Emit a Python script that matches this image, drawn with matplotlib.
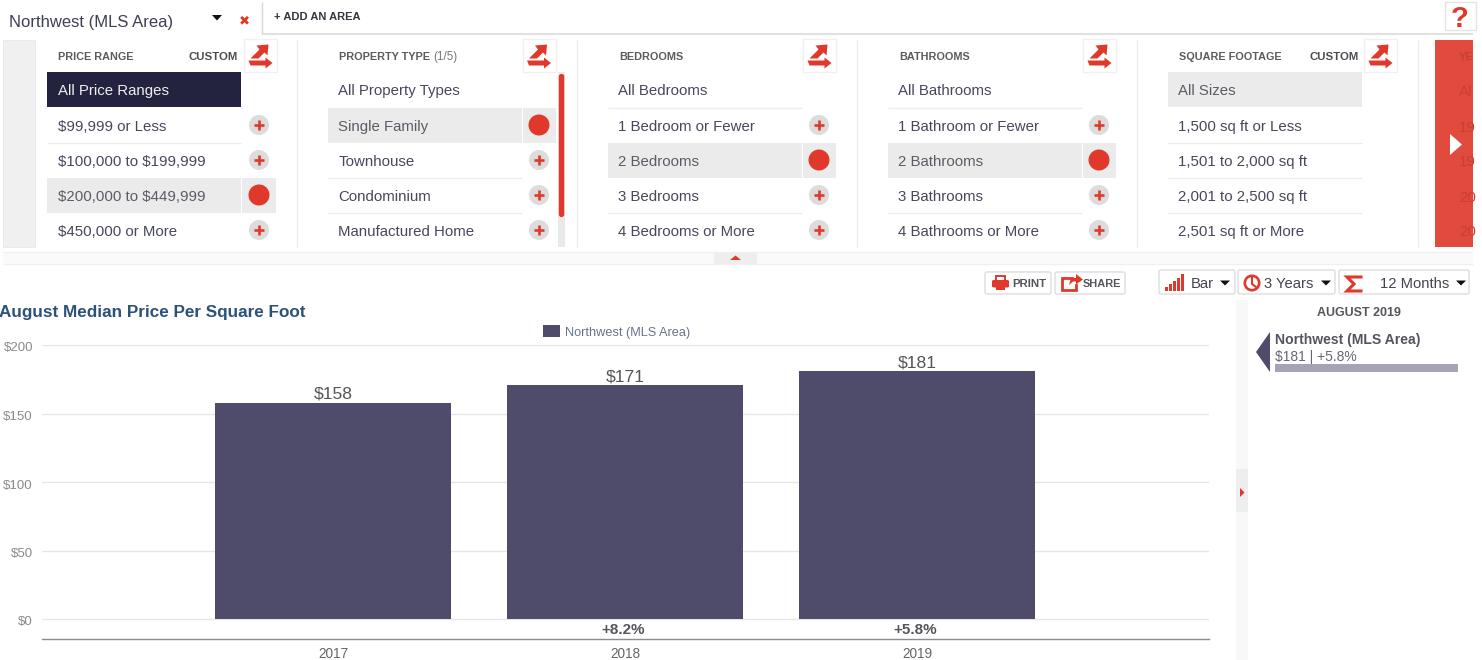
import matplotlib
matplotlib.use("Agg")
import matplotlib.pyplot as plt
from matplotlib.patches import Rectangle, Circle, Polygon, FancyBboxPatch
from matplotlib.transforms import ScaledTranslation

plt.rcParams['font.family'] = ['Liberation Sans', 'DejaVu Sans']

# ---- chart data ----
years = ['2017', '2018', '2019']
prices = [158, 171, 181]
changes = ['', '+8.2%', '+5.8%']
y_ticks = [0, 50, 100, 150, 200]
y_tick_labels = ['$0', '$50', '$100', '$150', '$200']
series_name = 'Northwest (MLS Area)'
chart_title = 'August Median Price Per Square Foot'

# ---- filter menus ----
price_items = ['All Price Ranges', '$99,999 or Less', '$100,000 to $199,999', '$200,000 to $449,999', '$450,000 or More']
type_items = ['All Property Types', 'Single Family', 'Townhouse', 'Condominium', 'Manufactured Home']
bed_items = ['All Bedrooms', '1 Bedroom or Fewer', '2 Bedrooms', '3 Bedrooms', '4 Bedrooms or More']
bath_items = ['All Bathrooms', '1 Bathroom or Fewer', '2 Bathrooms', '3 Bathrooms', '4 Bathrooms or More']
size_items = ['All Sizes', '1,500 sq ft or Less', '1,501 to 2,000 sq ft', '2,001 to 2,500 sq ft', '2,501 sq ft or More']

W, H = 1482, 660
RED = '#e0392b'
NAVY = '#4e4b6b'
fig = plt.figure(figsize=(W / 100, H / 100), dpi=100, facecolor='white')

# ---- pixel overlay for the interface ----
ui = fig.add_axes([0, 0, 1, 1], zorder=1)
ui.set_xlim(0, W)
ui.set_ylim(H, 0)
ui.axis('off')


def rect(x0, y0, x1, y1, fc, ec='none', lw=0, z=1):
    ui.add_patch(Rectangle((x0, y0), x1 - x0, y1 - y0, fc=fc, ec=ec, lw=lw, zorder=z))


def txt(x, y, s, size=10.85, color='#4a4a55', weight='normal', ha='left', z=5):
    return ui.text(x, y + 1, s, fontsize=size, color=color, fontweight=weight, ha=ha, va='center_baseline',
                   zorder=z, parse_math=False)


def hline(x0, x1, y, color='#e6e6e6', lw=1.0):
    ui.plot([x0, x1], [y, y], color=color, lw=lw, solid_capstyle='butt', zorder=2)


def vline(x, y0, y1, color='#ececec', lw=1.0):
    ui.plot([x, x], [y0, y1], color=color, lw=lw, solid_capstyle='butt', zorder=2)


def swap_icon(cx, cy):
    rect(cx - 16.5, cy - 16.5, cx + 16.5, cy + 16.5, 'white', ec='#f0f0f0', lw=1, z=2)
    ui.add_patch(Polygon([(cx - 10, cy + 3), (cx - 1, cy - 6), (cx - 4, cy - 10), (cx + 8, cy - 11),
                          (cx + 7, cy + 0), (cx + 4, cy - 3), (cx - 2, cy + 3)], fc=RED, zorder=3))
    ui.add_patch(Polygon([(cx - 12, cy + 5), (cx + 5, cy + 5), (cx + 5, cy + 2), (cx + 12, cy + 7.5),
                          (cx + 5, cy + 13), (cx + 5, cy + 10), (cx - 10, cy + 10)], fc=RED, zorder=3))


def plus(cx, cy):
    ui.add_patch(Circle((cx, cy), 10, fc='#dcdcdc', ec='none', zorder=3))
    ui.plot([cx - 5, cx + 5], [cy, cy], color=RED, lw=1.9, solid_capstyle='butt', zorder=4)
    ui.plot([cx, cx], [cy - 5, cy + 5], color=RED, lw=1.9, solid_capstyle='butt', zorder=4)


ROWS = [89, 125, 160, 195, 230]


def panel(x0, items, header, selected, custom=False, icon_cx=None, plus_cx=None, no_plus=False, dark=None):
    x1 = x0 + 194
    txt(x0 + 11, 54.8, header, size=7.8, color='#5b5b5f', weight='bold')
    if custom:
        txt(x1 - 3.5, 54.8, 'CUSTOM', size=8.2, color='#4c4c52', weight='bold', ha='right')
    swap_icon(icon_cx, 55.5)
    for i, (label, yc) in enumerate(zip(items, ROWS)):
        if i < 4 and i not in selected and i + 1 not in selected and i != dark:
            hline(x0, x1, (ROWS[i] + ROWS[i + 1]) / 2 + 0.5, color='#ececec', lw=1.0)
        color = '#47485c'
        if i == dark:
            rect(x0, yc - 17.5, x1, yc + 18, '#23233f', z=1.5)
            color = '#eeeeee'
        elif i in selected:
            rect(x0, yc - 17.5, x1, yc + 17.5, '#ebebeb', z=1.5)
            color = '#5c5c66'
        txt(x0 + 10.5, yc - 0.5, label, color=color)
        if i == 0 or no_plus:
            continue
        if i in selected:
            rect(x1 + 1, yc - 17, plus_cx + 17, yc + 17.5, '#ebebeb', z=1.5)
            ui.add_patch(Circle((plus_cx, yc), 10.5, fc=RED, ec='none', zorder=3))
        else:
            plus(plus_cx, yc)


# header bar
txt(9, 20.5, series_name, size=12, color='#3d3f52')
ui.add_patch(Polygon([(212, 15), (222, 15), (217, 20.5)], fc='#111111', zorder=3))
txt(244, 19, '\u2716', size=9.5, color=RED, ha='center')
vline(262, 2, 34, color='#d8d8d8')
hline(262, 1473, 34, color='#d8d8d8', lw=1.1)
txt(274, 15, '+ ADD AN AREA', size=8, color='#35353f', weight='bold')
rect(1445, 2, 1476, 30, 'white', ec='#e4e4e4', lw=1)
txt(1460, 15, '?', size=21, color=RED, weight='bold', ha='center')

# filter row
rect(3, 40, 35, 247, '#f0f0f0', ec='#e8e8e8', lw=0.6)
panel(47, price_items, 'PRICE RANGE', {3}, custom=True, icon_cx=260.5, plus_cx=259, dark=0)
panel(328, type_items, 'PROPERTY TYPE', {1}, icon_cx=539, plus_cx=539)
txt(433, 54.8, '(1/5)', size=8.4, color='#77777c')
panel(608, bed_items, 'BEDROOMS', {2}, icon_cx=819.5, plus_cx=819)
panel(888, bath_items, 'BATHROOMS', {2}, icon_cx=1099.5, plus_cx=1099)
panel(1168, size_items, 'SQUARE FOOTAGE', {0}, custom=True, icon_cx=1380.5, no_plus=True)
for xd in [297, 577, 857, 1137, 1418]:
    vline(xd, 40, 247)
rect(558, 72, 565, 247, '#e9e9e9', z=2)
ui.add_patch(FancyBboxPatch((558.8, 74), 5.4, 143, boxstyle='round,pad=0,rounding_size=2.5', fc=RED, ec='none', zorder=3))

# red year panel
rect(1435, 40, 1473, 247, '#e04b3d', z=2)
for s, yc in zip(['YE', 'Al', '19', '19', '20', '20'], [54.8] + ROWS):
    t = txt(1459, yc, s, size=7.8 if s == 'YE' else 10.85, color='#c93f32', weight='bold' if s == 'YE' else 'normal', z=3)
    t.set_clip_path(Rectangle((1435, 40), 38, 207, transform=ui.transData))
ui.add_patch(Polygon([(1450, 134), (1450, 155), (1462, 144.5)], fc='white', zorder=4))

# collapse strip
rect(3, 252, 1473, 264, '#fafafa', z=1)
hline(3, 1473, 251.5, color='#f0f0f0')
hline(3, 1473, 264, color='#f0f0f0')
rect(714, 253, 757, 264, '#eeeeee', z=1.5)
ui.add_patch(Polygon([(730, 260), (741, 260), (735.5, 255.5)], fc=RED, zorder=3))

# toolbar buttons
for x0, x1, y0, y1 in [(985, 1051, 272, 294), (1055, 1125, 272, 294), (1159, 1235, 270, 294),
                       (1238, 1335, 270, 294), (1339, 1469, 270, 294)]:
    ui.add_patch(FancyBboxPatch((x0, y0), x1 - x0, y1 - y0, boxstyle='round,pad=0,rounding_size=2',
                                fc='white', ec='#dddddd', lw=1, zorder=2))
# print icon
rect(996, 276, 1005, 281, 'white', ec=RED, lw=1.4, z=3)
ui.add_patch(FancyBboxPatch((992, 280), 17, 7.5, boxstyle='round,pad=0,rounding_size=1.5', fc=RED, ec='none', zorder=3))
rect(996, 286, 1005, 290, RED, z=3)
txt(1012, 282, 'PRINT', size=8.2, color='#55555c', weight='bold')
# share icon
ui.plot([1072, 1062, 1062, 1076, 1076], [277.5, 277.5, 290, 290, 285], color=RED, lw=2, solid_joinstyle='miter', zorder=3)
ui.add_patch(Polygon([(1069, 285), (1071, 278), (1076, 278), (1076, 274), (1083, 279.5), (1076, 284.5), (1076, 281.5), (1073, 281.5)], fc=RED, zorder=3))
txt(1083, 282, 'SHARE', size=7.9, color='#55555c', weight='bold')
# bar icon
for bx, bh in zip([1165, 1169, 1173, 1177, 1181], [4, 7, 10, 13, 17]):
    rect(bx, 291 - bh, bx + 2.6, 291, RED, z=3)
txt(1191, 281, 'Bar', size=10.6, color='#444450')
ui.add_patch(Polygon([(1220, 280.5), (1230, 280.5), (1225, 285.5)], fc='#111111', zorder=3))
# clock icon
ui.add_patch(Circle((1252, 283), 7.2, fc='white', ec=RED, lw=1.9, zorder=3))
ui.plot([1252, 1252, 1256], [278, 284, 287], color=RED, lw=1.5, zorder=4)
txt(1264, 281, '3 Years', size=10.6, color='#444450')
ui.add_patch(Polygon([(1321, 280.5), (1331, 280.5), (1326, 285.5)], fc='#111111', zorder=3))
# sigma icon
ui.plot([1361, 1347, 1354, 1347, 1361], [277, 277, 284, 291, 291], color=RED, lw=2.2, solid_joinstyle='miter', zorder=3)
txt(1380, 281, '12 Months', size=10.6, color='#444450')
ui.add_patch(Polygon([(1456, 280.5), (1466, 280.5), (1461, 285.5)], fc='#111111', zorder=3))

# chart title and legend
txt(-1, 310, chart_title, size=12.3, color='#2b5278', weight='bold')
rect(543, 325, 560, 337, NAVY)
txt(565, 330.5, series_name, size=9.2, color='#66758c')

# side panel
rect(1236, 300, 1248, 660, '#f8f8f8', z=1)
rect(1236, 469, 1248, 512, '#eeeeee', z=1.5)
ui.add_patch(Polygon([(1240, 488), (1240, 497), (1244.5, 492.5)], fc=RED, zorder=3))
txt(1359, 310.5, 'AUGUST 2019', size=9, color='#55555c', weight='bold', ha='center')
ui.add_patch(Polygon([(1270, 332), (1270, 372), (1256, 352)], fc=NAVY, zorder=3))
txt(1275, 337.5, series_name, size=10.1, color='#55555f', weight='bold')
txt(1275, 354.5, '$181 | +5.8%', size=10, color='#66667a')
rect(1275, 364, 1458, 372, '#a5a3b5')


# ---- the chart ----
def fx(px):
    return px / W


def fy(py):
    return 1 - py / H


ax = fig.add_axes([fx(42), fy(639), fx(1209 - 42), (639 - 345) / H], zorder=2)
ax.patch.set_alpha(0)
px_per_unit = (619 - 345) / 200
ax.set_ylim(-(639 - 619) / px_per_unit, 200)
ax.set_xlim(-291 / 292, 876 / 292)
positions = list(range(len(years)))
ax.bar(positions, prices, width=236 / 292, color=NAVY, zorder=3)
ax.set_yticks(y_ticks)
ax.set_yticklabels(y_tick_labels, fontsize=9.5, color='#8a8a8a')
ax.set_xticks(positions)
ax.set_xticklabels(years, fontsize=9.8, color='#666666')
ax.tick_params(axis='x', length=0, pad=5.8)
ax.tick_params(axis='y', length=0, pad=6.5)
shift = ScaledTranslation(0, -2 / 100, fig.dpi_scale_trans)
for lab in ax.get_yticklabels():
    lab.set_transform(lab.get_transform() + shift)
ax.grid(axis='y', color='#e6e6e6', lw=1.0, zorder=0)
ax.grid(axis='x', visible=False)
for side in ['top', 'left', 'right']:
    ax.spines[side].set_visible(False)
ax.spines['bottom'].set_color('#8c8c8c')
ax.spines['bottom'].set_linewidth(1.0)
for p, v, ch in zip(positions, prices, changes):
    ax.annotate(f'${v}', (p, v), xytext=(0, 0.5), textcoords='offset points', ha='center', va='bottom',
                fontsize=12.6, color='#555555', parse_math=False)
    ax.annotate(ch, (p - 0.007, -8), ha='center', va='center', fontsize=10.9, color='#55555c', fontweight='bold',
                annotation_clip=False)

fig.savefig('out.png', dpi=100, facecolor='white')
